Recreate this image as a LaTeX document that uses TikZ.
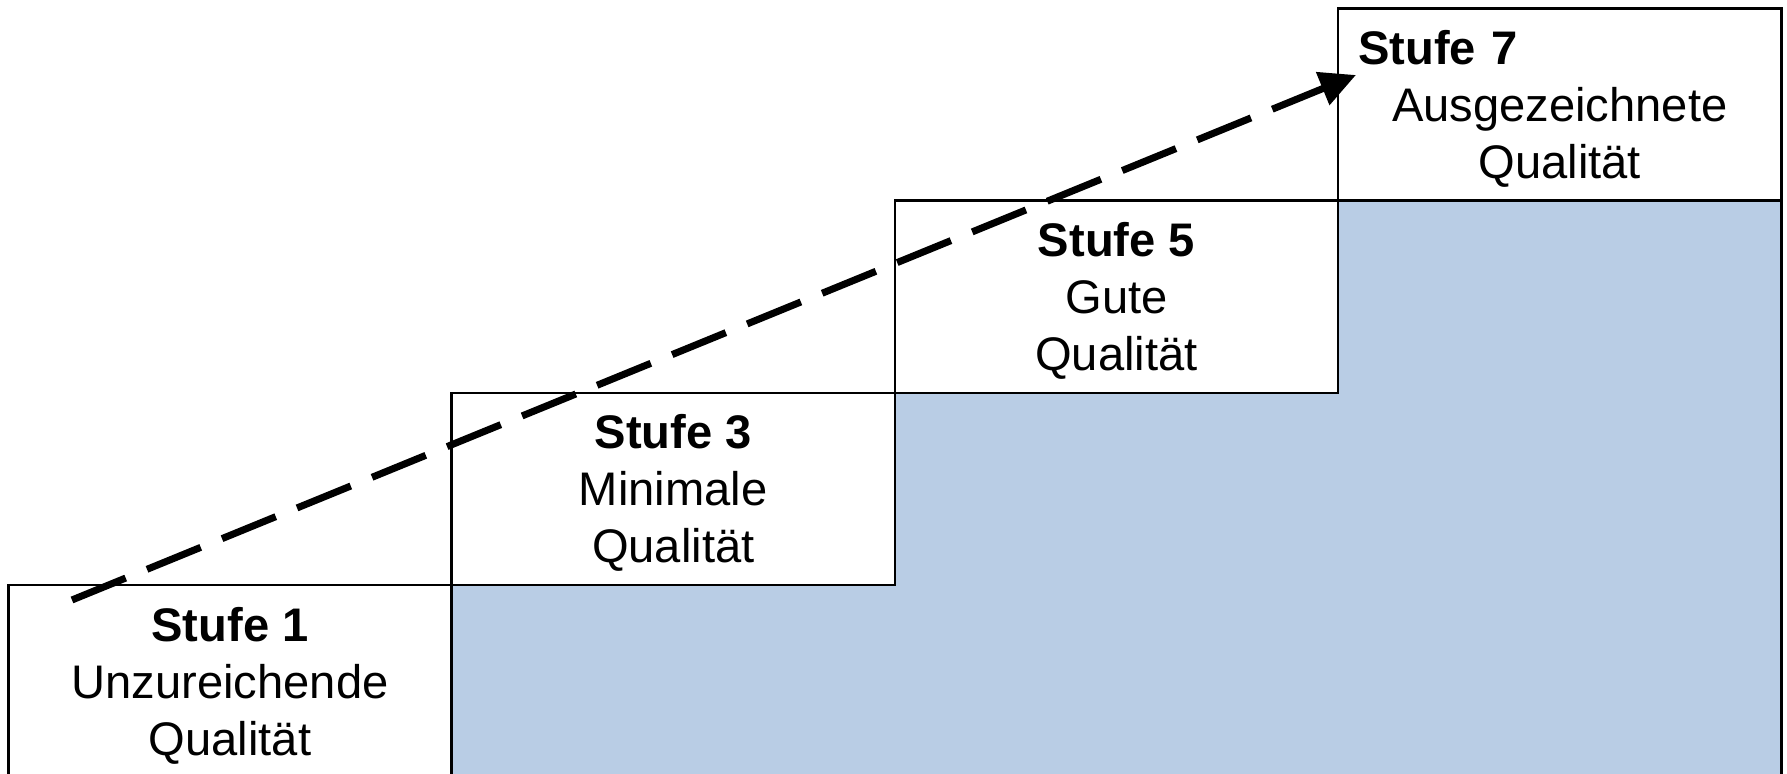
\documentclass[tikz,border=0pt]{standalone}
\usepackage{fontspec}
\setmainfont{Liberation Sans}
\usetikzlibrary{positioning,arrows.meta}
\definecolor{stepBlue}{RGB}{185,205,229}
\begin{document}
\begin{tikzpicture}[x=0.01cm,y=-0.01cm,
    stufebox/.style={draw=black, line width=0.7pt, fill=white, minimum width=4.43cm,
      minimum height=1.92cm, inner sep=0pt, outer sep=0pt},
    stufetext/.style={align=center, inner sep=0pt, anchor=north,
      font=\fontsize{13.4pt}{16.2pt}\selectfont}]
  \useasboundingbox (0,0) rectangle (1787,774);
  \clip (0,0) rectangle (1787,774);

  % Define the four steps, each one on the corner of the one before
  \node[stufebox] (s1) at (230,681) {};
  \node[stufebox, anchor=south west] (s3) at (s1.north east) {};
  \node[stufebox, anchor=south west] (s5) at (s3.north east) {};
  \node[stufebox, anchor=south west] (s7) at (s5.north east) {};

  % Shade the area under the steps
  \filldraw[fill=stepBlue, draw=black, line width=0.7pt]
    (s3.south west) -- (s3.south east) -- (s5.south west) -- (s5.south east)
    -- (s7.south west) -- (s7.south east) -- (s7.south east |- s1.south)
    -- (s1.south east) -- cycle;

  % Redraw the boxes over the shading
  \foreach \s in {s1,s3,s5,s7}
    \draw[line width=0.7pt] (\s.south west) rectangle (\s.north east);

  % Labels of the steps
  \node[stufetext, below=0.22cm of s1.north] (t1) {\textbf{Stufe 1}\\Unzureichende\\Qualität};
  \node[stufetext, below=0.21cm of s3.north] (t3) {\textbf{Stufe 3}\\Minimale\\Qualität};
  \node[stufetext, below=0.21cm of s5.north] (t5) {\textbf{Stufe 5}\\Gute\\Qualität};
  \node[stufetext, text width=4.03cm, below=0.21cm of s7.north] (t7)
    {\textbf{Stufe 7}\hfill\mbox{}\\Ausgezeichnete\\Qualität};

  % Dashed arrow up the stairs
  \coordinate (von) at (72,600);
  \coordinate (bis) at (1356,75);
  \draw[line width=2pt, dash pattern=on 0.58cm off 0.23cm,
    -{Triangle[length=0.36cm,width=0.34cm]}] (von) -- (bis);
\end{tikzpicture}
\end{document}
